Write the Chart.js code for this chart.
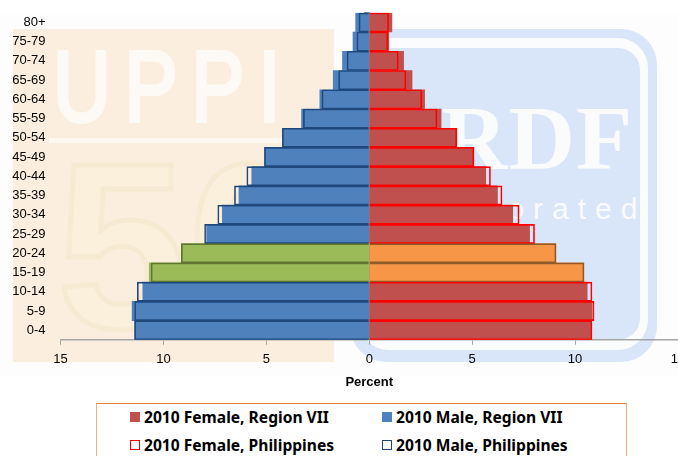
<!DOCTYPE html>
<html>
<head>
<meta charset="utf-8">
<title>Population pyramid, Region VII and Philippines, 2010</title>
<script src="https://cdn.jsdelivr.net/npm/chart.js@4"></script>
<style>
  html, body { margin: 0; padding: 0; background: #fff; }
  #page { position: relative; width: 678px; height: 456px; overflow: hidden; background: #fff; }
  .wm { position: absolute; }
  #halo { left: 0; top: 14px; width: 678px; height: 362px; background: #fdfdfd; }
  #beige { left: 12.5px; top: 29px; width: 321.5px; height: 333px; background: #fbeede; overflow: hidden; }
  #uppi { left: 40px; top: 7px; font: 100px/100px "Liberation Sans"; letter-spacing: 17px; color: #fdf9f4; -webkit-text-stroke: 4px #fdf9f4; white-space: nowrap; transform: scaleX(.8); transform-origin: left top; }
  #rule { left: 36px; top: 109px; width: 250px; height: 5px; background: #fdf7ef; }
  #fifty { left: 44px; top: 100px; font: bold 235px/235px "Liberation Sans"; color: #fbf0dc; -webkit-text-stroke: 5px #f6ebd2; white-space: nowrap; }
  #blue1 { left: 350px; top: 29px; width: 307px; height: 333px; border-radius: 36px; background: #d9e5f8; }
  #blue2 { left: 359px; top: 38px; width: 289px; height: 312px; border-radius: 30px; background: #fbfcfe; }
  #blue3 { left: 367px; top: 48px; width: 273px; height: 292px; border-radius: 22px; background: #d9e5f8; }
  #rdf { left: 441px; top: 92px; font: bold 92px/92px "Liberation Serif"; letter-spacing: 1px; color: #fafbfd; white-space: nowrap; }
  #inc { left: 370px; top: 192px; width: 266px; text-align: right; font: 30px/34px "Liberation Sans"; letter-spacing: 9px; color: #fafbfd; white-space: nowrap; }
  #chartBox { position: absolute; left: 0; top: -2px; width: 700px; height: 402px; }
  #legendBox { position: absolute; left: 96px; top: 403px; width: 531px; height: 70px; border: 1.5px solid #eeb07c; border-top-color: #e2813f; box-sizing: border-box; }
  .item { position: absolute; font: bold 15.6px/20px "Noto Sans"; color: #000; white-space: nowrap; }
  .swatch { position: absolute; left: -14px; top: 5px; width: 10px; height: 10px; box-sizing: border-box; }
</style>
</head>
<body>
<div id="page">
  <div class="wm" id="halo"></div>
  <div class="wm" id="beige">
    <div class="wm" id="fifty">50</div>
    <div class="wm" id="uppi">UPPI</div>
    <div class="wm" id="rule"></div>
  </div>
  <div class="wm" id="blue1"></div>
  <div class="wm" id="blue2"></div>
  <div class="wm" id="blue3"></div>
  <div class="wm" id="rdf">RDF</div>
  <div class="wm" id="inc">Incorporated</div>
  <div id="chartBox"><canvas id="grafico" width="700" height="402"></canvas></div>
  <div id="legendBox"></div>
</div>
<script>
// top row first, same order as the picture
const ageGroups = ['80+','75-79','70-74','65-69','60-64','55-59','50-54','45-49','40-44','35-39','30-34','25-29','20-24','15-19','10-14','5-9','0-4'];
const femaleRegion = [1.10,0.95,1.67,2.08,2.69,3.49,4.25,5.08,5.66,6.23,6.97,7.79,9.07,10.43,10.59,10.82,10.79];
const maleRegion = [0.66,0.79,1.30,1.75,2.40,3.29,4.22,5.09,5.71,6.33,7.14,7.90,9.13,10.69,11.00,11.52,11.40];
const femalePhil = [0.94,0.90,1.41,1.78,2.55,3.29,4.25,5.08,5.89,6.45,7.28,8.03,9.07,10.43,10.82,10.92,10.82];
const malePhil = [0.50,0.60,1.08,1.49,2.30,3.20,4.22,5.09,5.95,6.55,7.36,8.00,9.13,10.60,11.27,11.40,11.40];
const xTicks = [-15,-10,-5,0,5,10,15];
const highlighted = ['20-24','15-19'];

const isHi = ctx => highlighted.includes(ageGroups[ctx.dataIndex]);
const negar = arr => arr.map(v => -v);

const datasets = [
  { label: '2010 Female, Region VII', data: femaleRegion, order: 2, borderWidth: 0,
    backgroundColor: ctx => isHi(ctx) ? '#f79646' : '#c0504d', swatch: 'background:#c0504d' },
  { label: '2010 Male, Region VII', data: negar(maleRegion), order: 2, borderWidth: 0,
    backgroundColor: ctx => isHi(ctx) ? '#9bbb59' : '#4f81bd', swatch: 'background:#4f81bd' },
  { label: '2010 Female, Philippines', data: femalePhil, order: 1, borderWidth: 1, borderSkipped: 'start',
    backgroundColor: 'transparent', borderColor: ctx => isHi(ctx) ? '#8f5a2a' : '#ff0000', swatch: 'border:1.5px solid #ff0000' },
  { label: '2010 Male, Philippines', data: negar(malePhil), order: 1, borderWidth: 1, borderSkipped: 'start',
    backgroundColor: 'transparent', borderColor: ctx => isHi(ctx) ? '#5f7530' : '#1f497d', swatch: 'border:1.5px solid #1f497d' }
];

new Chart(document.getElementById('grafico'), {
  type: 'bar',
  data: { labels: ageGroups, datasets },
  options: {
    indexAxis: 'y',
    responsive: false,
    animation: false,
    grouped: false,
    barPercentage: 1,
    categoryPercentage: 1,
    layout: { padding: { left: 0, right: 22, top: 0, bottom: 10 } },
    plugins: { legend: { display: false }, tooltip: { enabled: false } },
    scales: {
      x: {
        min: -15, max: 15,
        afterBuildTicks: s => { s.ticks = xTicks.map(value => ({ value })); },
        ticks: {
          callback: v => Math.abs(v), maxRotation: 0, autoSkip: false,
          color: '#000', padding: 7, font: { family: 'Liberation Sans', size: 13 }
        },
        grid: { drawOnChartArea: false, tickLength: 5, color: '#a6a6a6', lineWidth: 1 },
        border: { color: '#a6a6a6', width: 1.5 },
        title: {
          display: true, text: 'Percent', color: '#000', padding: { top: 0, bottom: 0 },
          font: { family: 'Liberation Sans', size: 13, weight: 'bold' }
        }
      },
      y: {
        position: 'left',
        afterFit: s => { s.width = 60.5; },
        ticks: { color: '#000', padding: 7, autoSkip: false, font: { family: 'Liberation Sans', size: 13 } },
        grid: { display: false },
        border: { display: false }
      },
      // the zero line with its little tick marks, labels stay on the far left
      yZero: {
        type: 'category', axis: 'y', labels: ageGroups, position: { x: 0 },
        ticks: { display: false },
        grid: { drawOnChartArea: false, tickLength: 5, color: '#8c8c8c', lineWidth: 1 },
        border: { color: '#8c8c8c', width: 1 }
      }
    }
  }
});

// legend in two columns, as in the picture
const legendBox = document.getElementById('legendBox');
const legendPos = [[47, 3], [299, 3], [47, 31], [299, 31]];
[0, 1, 2, 3].forEach(i => {
  const el = document.createElement('div');
  el.className = 'item';
  el.style.left = legendPos[i][0] + 'px';
  el.style.top = legendPos[i][1] + 'px';
  el.innerHTML = `<span class="swatch" style="${datasets[i].swatch}"></span>${datasets[i].label}`;
  legendBox.appendChild(el);
});
</script>
</body>
</html>
